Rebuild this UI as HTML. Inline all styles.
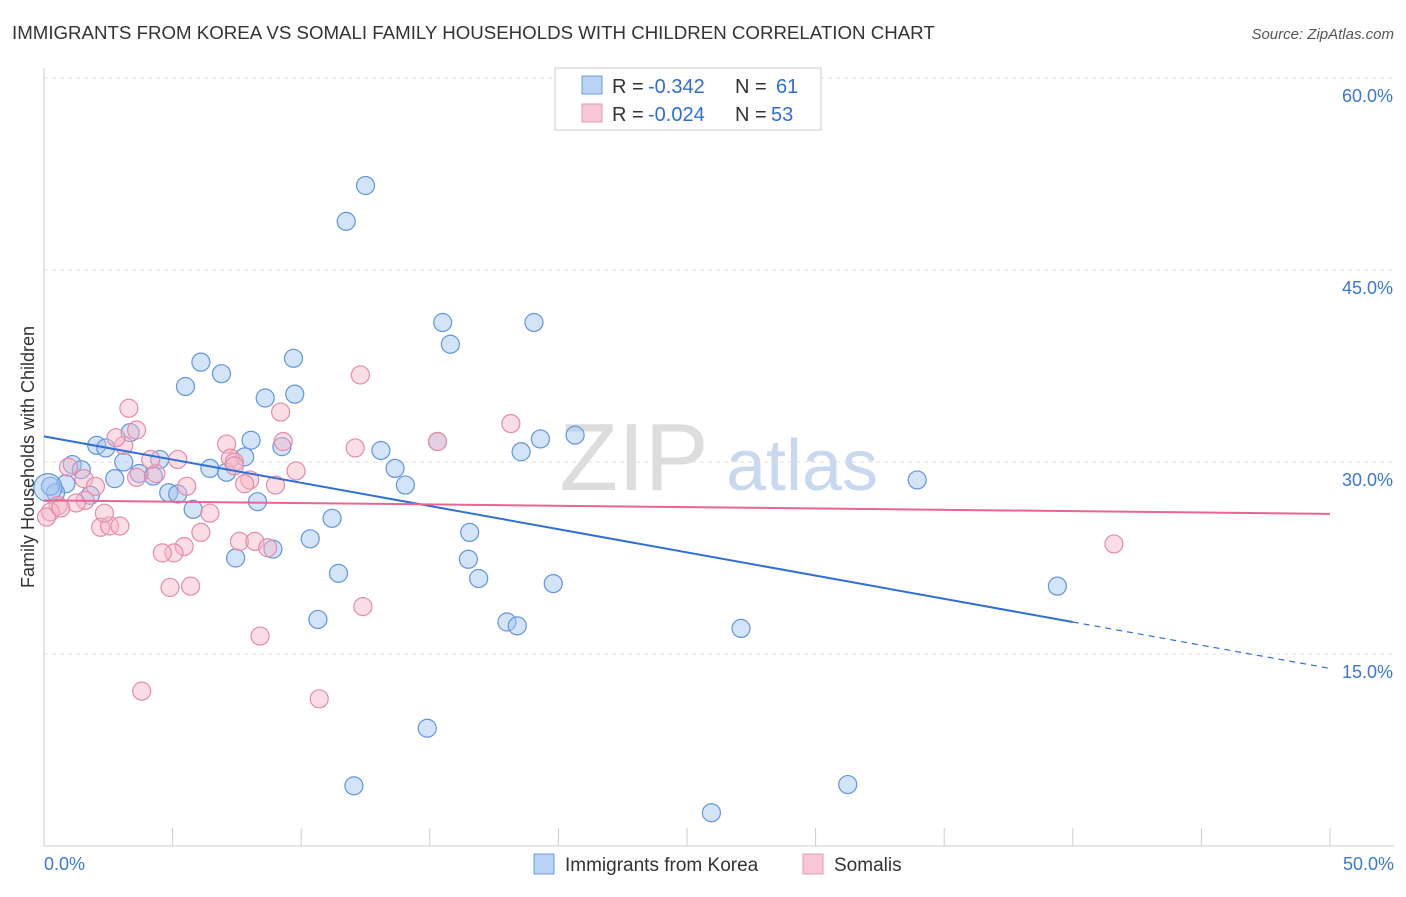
<!DOCTYPE html>
<html><head><meta charset="utf-8"><style>
body{margin:0;background:#fff;font-family:"Liberation Sans",sans-serif;}
svg text{font-family:"Liberation Sans",sans-serif;}
</style></head><body>
<svg id="chart" width="1406" height="892">
<text x="12" y="39" font-size="18.7" fill="#333">IMMIGRANTS FROM KOREA VS SOMALI FAMILY HOUSEHOLDS WITH CHILDREN CORRELATION CHART</text>
<text x="1394" y="39" font-size="15" fill="#555" font-style="italic" text-anchor="end">Source: ZipAtlas.com</text>
<text x="634" y="490" font-size="96" fill="#ddd" font-family="Liberation Serif" text-anchor="middle">ZIP</text>
<text x="802" y="490" font-size="72" fill="#c8d8ee" text-anchor="middle">atlas</text>
<g id="grid"></g><g id="axes"></g><g id="pts"></g><g id="lines"></g>
<text x="34" y="457" font-size="18" fill="#333" transform="rotate(-90 34 457)" text-anchor="middle">Family Households with Children</text>
<g>
<rect x="555" y="68" width="266" height="62" fill="#fff" stroke="#ccc"/>
<rect x="582" y="76" width="20" height="18" fill="#b9d3f5" stroke="#6b9ee0"/>
<rect x="582" y="104" width="20" height="18" fill="#f8c7d6" stroke="#e99ab3"/>
<text x="612" y="93" font-size="20" fill="#333">R =</text>
<text x="648" y="93" font-size="20" fill="#2f6fd6">-0.342</text>
<text x="735" y="93" font-size="20" fill="#333">N =</text>
<text x="776" y="93" font-size="20" fill="#2f6fd6">61</text>
<text x="612" y="121" font-size="20" fill="#333">R =</text>
<text x="648" y="121" font-size="20" fill="#2f6fd6">-0.024</text>
<text x="735" y="121" font-size="20" fill="#333">N =</text>
<text x="771" y="121" font-size="20" fill="#2f6fd6">53</text>
</g>
<g>
<rect x="534" y="854" width="20" height="20" fill="#b9d3f5" stroke="#6b9ee0"/>
<text x="565" y="871" font-size="19" fill="#333">Immigrants from Korea</text>
<rect x="803" y="854" width="20" height="20" fill="#f8c7d6" stroke="#e99ab3"/>
<text x="834" y="871" font-size="19" fill="#333">Somalis</text>
</g>
</svg>
<script>
const xTicks=[0,5,10,15,20,25,30,35,40,45,50];
const yTicks=[15,30,45,60];
const koreaX=[12.5,11.75,15.5,19.05,15.8,9.7,6.1,6.9,5.5,9.75,8.6,3.35,2.05,2.4,8.05,9.25,20.65,19.3,13.1,18.55,15.3,3.1,4.5,7.8,6.45,7.1,13.65,14.05,1.1,1.45,3.7,4.25,2.75,0.85,1.8,4.85,5.2,0.45,0.25,5.8,8.3,11.2,16.55,10.35,16.5,7.45,8.9,16.9,11.45,19.8,33.95,39.4,10.65,18.0,18.4,27.1,14.9,12.05,31.25,25.95,0.15];
const koreaY=[51.6,48.8,40.9,40.9,39.2,38.1,37.8,36.9,35.9,35.3,35.0,32.3,31.3,31.1,31.7,31.2,32.1,31.8,30.9,30.8,31.6,30.0,30.2,30.4,29.5,29.2,29.5,28.2,29.8,29.4,29.1,28.9,28.7,28.3,27.4,27.6,27.5,27.6,28.1,26.3,26.9,25.6,24.5,24.0,22.4,22.5,23.2,20.9,21.3,20.5,28.6,20.3,17.7,17.5,17.2,17.0,9.2,4.7,4.8,2.6,28.0];
const somaliX=[3.3,3.6,3.1,2.8,7.1,9.3,7.25,9.8,5.2,4.35,4.15,0.95,1.55,2.0,1.6,1.25,0.55,0.25,0.1,0.65,2.2,2.55,2.95,2.35,3.6,5.55,9.0,8.0,7.8,7.4,6.1,6.45,5.45,5.05,4.6,7.6,8.2,8.7,4.9,5.7,8.4,3.8,10.7,12.4,9.2,12.3,12.1,15.3,18.15,41.6,7.4];
const somaliY=[34.2,32.5,31.3,31.9,31.4,31.6,30.3,29.3,30.2,29.1,30.2,29.6,28.7,28.1,27.0,26.8,26.6,26.1,25.7,26.4,24.9,25.0,25.0,26.0,28.8,28.1,28.2,28.6,28.3,30.0,24.5,26.0,23.4,22.9,22.9,23.8,23.8,23.3,20.2,20.3,16.4,12.1,11.5,18.7,33.9,36.8,31.1,31.6,33.0,23.6,29.7];
const X=v=>44+v/50*1286, Y=v=>846-v/15*192;
const NS='http://www.w3.org/2000/svg';
function mk(t,a,p){const e=document.createElementNS(NS,t);for(const k in a)e.setAttribute(k,a[k]);document.getElementById(p).appendChild(e);return e;}
yTicks.forEach(t=>{const l=mk('line',{x1:44,x2:1394,y1:Y(t),y2:Y(t),stroke:'#ddd','stroke-dasharray':'4,4'},'grid');


const tx=mk('text',{x:1393,y:Y(t)+24,'font-size':18,fill:'#3a78d4','text-anchor':'end'},'axes');tx.textContent=t.toFixed(1)+'%';

});
mk('line',{x1:44,x2:44,y1:68,y2:846,stroke:'#ccc'},'axes');
mk('line',{x1:44,x2:1394,y1:846,y2:846,stroke:'#ccc'},'axes');
xTicks.forEach(t=>{const l=mk('line',{x1:X(t),x2:X(t),y1:828,y2:846,stroke:'#ccc'},'axes');

});
[[0,'start',44],[50,'end',1394]].forEach(([t,a,x])=>{const tx=mk('text',{x:x,y:870,'font-size':18,fill:'#3a78d4','text-anchor':a},'axes');tx.textContent=t.toFixed(1)+'%';

});
koreaX.forEach((v,i)=>{const c=mk('circle',{cx:X(v),cy:Y(koreaY[i]),r:i==koreaX.length-1?14:9,fill:'rgba(160,195,240,0.45)',stroke:'#5f95dd','stroke-width':1.2},'pts');

});
somaliX.forEach((v,i)=>{const c=mk('circle',{cx:X(v),cy:Y(somaliY[i]),r:9,fill:'rgba(246,180,200,0.45)',stroke:'#e58aa8','stroke-width':1.2},'pts');

});
const kb=[32.0,-0.3625], sb=[27.0,-0.021];
let l=mk('line',{x1:X(0),y1:Y(kb[0]),x2:X(40),y2:Y(kb[0]+kb[1]*40),stroke:'#2f6fd6','stroke-width':2},'lines');


l=mk('line',{x1:X(40),y1:Y(kb[0]+kb[1]*40),x2:X(50),y2:Y(kb[0]+kb[1]*50),stroke:'#2f6fd6','stroke-width':1.2,'stroke-dasharray':'6,5'},'lines');


l=mk('line',{x1:X(0),y1:Y(sb[0]),x2:X(50),y2:Y(sb[0]+sb[1]*50),stroke:'#e8668f','stroke-width':2},'lines');


</script>
</body></html>
